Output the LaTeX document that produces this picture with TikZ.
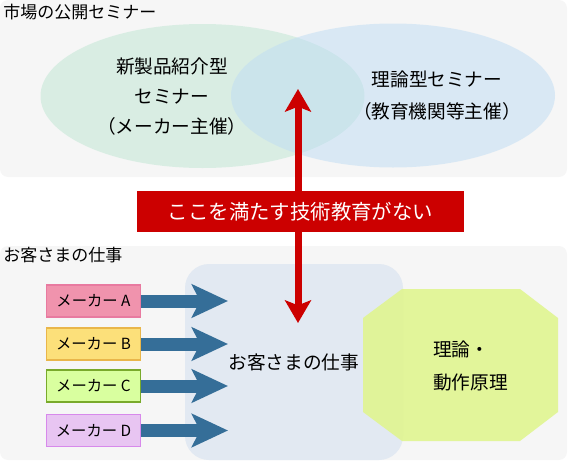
\documentclass[tikz,border=0pt]{standalone}
\usepackage{fontspec}
\setmainfont{Noto Sans CJK JP}
\usetikzlibrary{arrows.meta,shapes.geometric,positioning}
\definecolor{panelgray}{RGB}{246,246,246}
\definecolor{poolgreen}{RGB}{190,230,210}
\definecolor{poolblue}{RGB}{190,220,244}
\definecolor{workgray}{RGB}{226,233,242}
\definecolor{theorylime}{RGB}{224,245,144}
\definecolor{gapred}{RGB}{204,0,0}
\definecolor{flowblue}{RGB}{53,110,152}
\definecolor{makerAfill}{RGB}{240,147,173}
\definecolor{makerAline}{RGB}{232,122,160}
\definecolor{makerBfill}{RGB}{252,224,122}
\definecolor{makerBline}{RGB}{233,182,74}
\definecolor{makerCfill}{RGB}{217,255,159}
\definecolor{makerCline}{RGB}{121,170,43}
\definecolor{makerDfill}{RGB}{232,197,242}
\definecolor{makerDline}{RGB}{215,137,235}

\begin{document}
\begin{tikzpicture}[x=0.75pt, y=-0.75pt]
\tikzset{
    panel/.style={fill=panelgray, rounded corners=6pt},
    paneltitle/.style={anchor=west, inner sep=0pt, font=\fontsize{12.75pt}{15pt}\selectfont},
    pool/.style={ellipse, inner sep=0pt, minimum width=243pt, minimum height=108pt, fill opacity=0.5},
    pooltext/.style={align=center, inner sep=0pt},
    workbox/.style={fill=workgray, rounded corners=18pt, inner sep=0pt,
        minimum width=163.5pt, minimum height=147pt, font=\fontsize{14pt}{17pt}\selectfont},
    maker/.style={draw=#1line, fill=#1fill, line width=0.9pt, inner sep=0pt,
        minimum width=71pt, minimum height=24pt, font=\fontsize{11.5pt}{14pt}\selectfont},
    flow/.style={flowblue, line width=9.75pt, -{Stealth[length=27pt, width=24.75pt, inset=6pt]}},
    need/.style={gapred, line width=5.25pt,
        {Stealth[length=17pt, width=19.5pt, inset=3.75pt]}-{Stealth[length=17pt, width=19.5pt, inset=3.75pt]}},
    banner/.style={fill=gapred, text=white, inner sep=0pt, minimum width=245.25pt,
        minimum height=30.75pt, font=\fontsize{15.3pt}{18pt}\selectfont}
}
\useasboundingbox (0,0) rectangle (569,461);

% Upper panel: public seminars on the market
\fill[panel] (0,0) rectangle (567,177);
\node[paneltitle] (market) at (3,12) {市場の公開セミナー};
\node[pool, fill=poolgreen] (product) at (202.5,96) {};
\node[pool, fill=poolblue] (theory) at (393,95.5) {};
\node[pooltext, font=\fontsize{14pt}{22.5pt}\selectfont] (producttext) at (172,97)
    {新製品紹介型\\セミナー\\（メーカー主催）};
\node[pooltext, font=\fontsize{14pt}{24pt}\selectfont] (theorytext) at (437,96)
    {理論型セミナー\\（教育機関等主催）};

% Lower panel: the customer's work
\fill[panel] (0,246) rectangle (567,460);
\node[paneltitle] (customer) at (3,255) {お客さまの仕事};
\node[workbox] (work) at (294,362) {お客さまの仕事};
\fill[theorylime, fill opacity=0.9] (402,289) -- (520,289) -- (558,318) -- (558,412)
    -- (520,441) -- (402,441) -- (363,412) -- (363,318) -- cycle;
\node[anchor=west, align=left, inner sep=0pt, font=\fontsize{14pt}{24.75pt}\selectfont]
    (principle) at (433,366) {理論・\\動作原理};

% Makers feeding the customer's work
\coordinate (aim) at (228,0);
\node[maker=makerA] (makerA) at (93.5,301) {メーカー A};
\node[maker=makerB] (makerB) at (93.5,344) {メーカー B};
\node[maker=makerC] (makerC) at (93.5,386) {メーカー C};
\node[maker=makerD] (makerD) at (93.5,430.5) {メーカー D};
\foreach \m in {makerA,makerB,makerC,makerD}
    \draw[flow] (\m.east) -- (\m.east -| aim);

% The gap between seminars and work
\coordinate (seminartip) at (298,89);
\coordinate (worktip) at (298,323);
\draw[need] (worktip) -- (seminartip);
\node[banner] (gap) at (300.5,211.5) {ここを満たす技術教育がない};

\end{tikzpicture}
\end{document}
